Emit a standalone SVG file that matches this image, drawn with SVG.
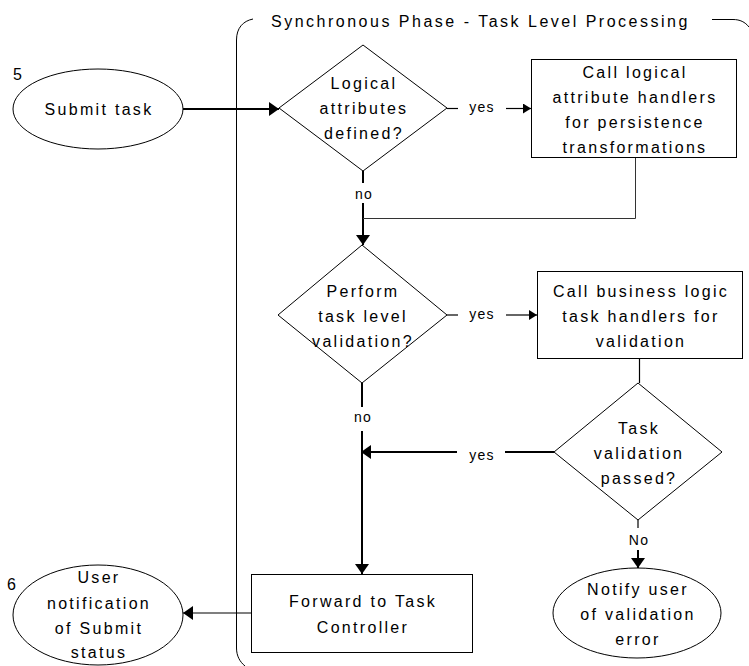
<svg xmlns="http://www.w3.org/2000/svg" width="749" height="666" viewBox="0 0 749 666">
  <defs>
    <marker id="arrow" markerUnits="userSpaceOnUse" markerWidth="12" markerHeight="16" refX="10" refY="7" orient="auto">
      <path d="M0,0 L10,7 L0,14 Z" fill="#000"/>
    </marker>
    <marker id="arrowSmall" markerUnits="userSpaceOnUse" markerWidth="10" markerHeight="12" refX="8" refY="5" orient="auto">
      <path d="M0,0 L8,5 L0,10 Z" fill="#000"/>
    </marker>
    <style>
      .shape { fill: #fff; stroke: #000; stroke-width: 1; }
      .frame { fill: none; stroke: #000; stroke-width: 1; }
      .label { font-family: "Liberation Sans", Arial, sans-serif; font-size: 16px; letter-spacing: 2.3px; fill: #000; text-anchor: middle; }
      .title { font-family: "Liberation Sans", Arial, sans-serif; font-size: 16px; letter-spacing: 2.5px; fill: #000; }
      .tag { font-family: "Liberation Sans", Arial, sans-serif; font-size: 14px; letter-spacing: 1.3px; fill: #000; text-anchor: middle; }
      .num { font-family: "Liberation Sans", Arial, sans-serif; font-size: 16px; fill: #000; }
      .thick { fill: none; stroke: #000; stroke-width: 2; }
      .thin { fill: none; stroke: #000; stroke-width: 1.2; }
      .return { fill: none; stroke: #333; stroke-width: 1; }
    </style>
  </defs>

  <!-- Phase frame with title -->
  <g id="phase-frame">
    <path class="frame" d="M253,19 C243,21 236.5,28 236.5,40 L236.5,648 C236.5,656 240,662 245,666"/>
    <path class="frame" d="M712,19.5 L733,19.5 C740,19.5 745,22 749,27"/>
    <text class="title" x="271" y="27">Synchronous Phase - Task Level Processing</text>
  </g>

  <!-- Connectors -->
  <g id="connectors">
    <line class="thick" x1="183" y1="109" x2="279" y2="109" marker-end="url(#arrow)"/>

    <line class="thin" x1="447" y1="108.5" x2="458" y2="108.5"/>
    <text class="tag" x="482" y="112">yes</text>
    <line class="thin" x1="506" y1="108.5" x2="531" y2="108.5" marker-end="url(#arrowSmall)"/>

    <line class="thick" x1="363" y1="171" x2="363" y2="183"/>
    <text class="tag" x="364" y="199">no</text>
    <line class="thick" x1="363" y1="203" x2="363" y2="245" marker-end="url(#arrow)"/>
    <polyline class="return" points="635.5,157 635.5,218.5 363,218.5"/>

    <line class="thin" x1="447" y1="315" x2="458" y2="315"/>
    <text class="tag" x="482" y="319">yes</text>
    <line class="thin" x1="506" y1="315" x2="537" y2="315" marker-end="url(#arrowSmall)"/>

    <line class="thin" x1="639.5" y1="358" x2="639.5" y2="383"/>

    <line class="thick" x1="362" y1="383" x2="362" y2="407"/>
    <text class="tag" x="363" y="422">no</text>
    <line class="thick" x1="362" y1="431" x2="362" y2="574" marker-end="url(#arrow)"/>

    <line class="thick" x1="554" y1="452" x2="505" y2="452"/>
    <text class="tag" x="482" y="460">yes</text>
    <line class="thick" x1="457" y1="452" x2="361" y2="452" marker-end="url(#arrow)"/>

    <line class="thin" x1="638" y1="520" x2="638" y2="528"/>
    <text class="tag" x="639" y="545">No</text>
    <line class="thick" x1="638" y1="550" x2="638" y2="568" marker-end="url(#arrow)"/>

    <line class="thin" x1="251" y1="613" x2="183" y2="613" marker-end="url(#arrow)" stroke-width="1.6"/>
  </g>

  <!-- Nodes -->
  <g id="submit-task">
    <text class="num" x="13" y="80">5</text>
    <ellipse class="shape" cx="98" cy="109" rx="85" ry="40"/>
    <text class="label" x="99" y="115">Submit task</text>
  </g>

  <g id="logical-attributes-decision">
    <polygon class="shape" points="363,45 447,108 363,171 279,108"/>
    <text class="label" x="364" y="89">Logical</text>
    <text class="label" x="364" y="114">attributes</text>
    <text class="label" x="364" y="139">defined?</text>
  </g>

  <g id="logical-attribute-handlers">
    <rect class="shape" x="531.5" y="59.5" width="205" height="98"/>
    <text class="label" x="635" y="78">Call logical</text>
    <text class="label" x="635" y="103">attribute handlers</text>
    <text class="label" x="635" y="128">for persistence</text>
    <text class="label" x="635" y="153">transformations</text>
  </g>

  <g id="task-validation-decision">
    <polygon class="shape" points="362,245 447,315 362,383 278,315"/>
    <text class="label" x="363" y="297">Perform</text>
    <text class="label" x="363" y="322">task level</text>
    <text class="label" x="363" y="347">validation?</text>
  </g>

  <g id="business-logic-handlers">
    <rect class="shape" x="537.5" y="271.5" width="205" height="87"/>
    <text class="label" x="641" y="297">Call business logic</text>
    <text class="label" x="641" y="322">task handlers for</text>
    <text class="label" x="641" y="347">validation</text>
  </g>

  <g id="validation-passed-decision">
    <polygon class="shape" points="638,383 722,452 638,520 554,452"/>
    <text class="label" x="639" y="434">Task</text>
    <text class="label" x="639" y="459">validation</text>
    <text class="label" x="639" y="484">passed?</text>
  </g>

  <g id="notify-validation-error">
    <ellipse class="shape" cx="637" cy="613" rx="84" ry="45"/>
    <text class="label" x="638" y="595">Notify user</text>
    <text class="label" x="638" y="620">of validation</text>
    <text class="label" x="638" y="645">error</text>
  </g>

  <g id="forward-to-task-controller">
    <rect class="shape" x="251.5" y="574.5" width="221" height="78"/>
    <text class="label" x="363" y="607">Forward to Task</text>
    <text class="label" x="363" y="633">Controller</text>
  </g>

  <g id="user-notification">
    <text class="num" x="7" y="590">6</text>
    <ellipse class="shape" cx="98" cy="615" rx="85" ry="50"/>
    <text class="label" x="99" y="583">User</text>
    <text class="label" x="99" y="609">notification</text>
    <text class="label" x="99" y="634">of Submit</text>
    <text class="label" x="99" y="658">status</text>
  </g>
</svg>
